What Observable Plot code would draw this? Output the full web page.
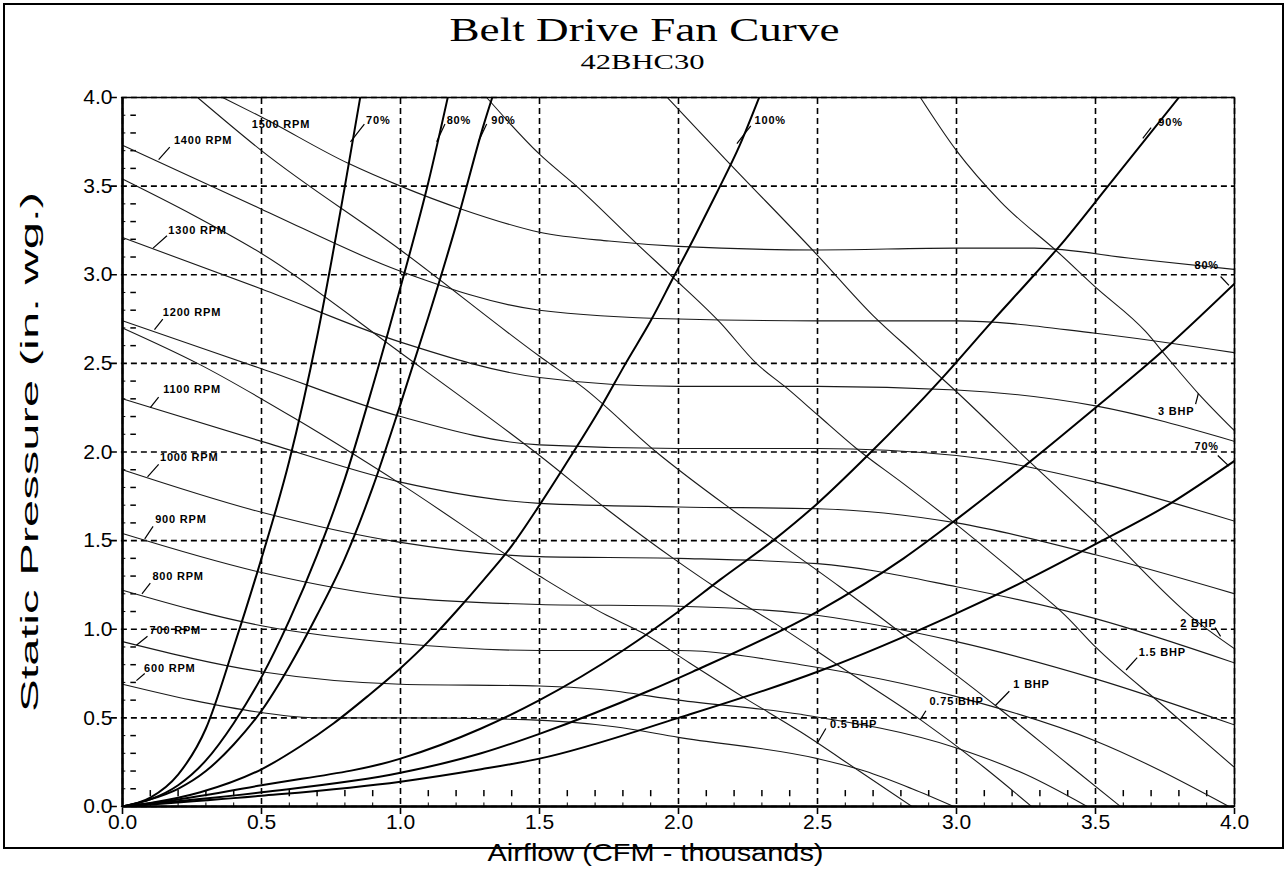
<!DOCTYPE html>
<html><head><meta charset="utf-8">
<script src="https://cdn.jsdelivr.net/npm/d3@7"></script>
<script src="https://cdn.jsdelivr.net/npm/@observablehq/plot@0.6"></script>
<style>
html,body{margin:0;padding:0;background:#fff;}
#wrap{position:relative;width:1286px;height:872px;overflow:hidden;}
#border{position:absolute;left:3px;top:3px;width:1277px;height:842px;border:2px solid #000;pointer-events:none;}
</style></head><body><div id="wrap"><div id="border"></div></div>
<script>
const titleText = "Belt Drive Fan Curve";
const subtitleText = "42BHC30";
const xTitle = "Airflow (CFM - thousands)";
const yTitle = "Static Pressure (in. wg.)";
const majorTicks = [0, 0.5, 1, 1.5, 2, 2.5, 3, 3.5, 4];
const minorTicks = [0.1,0.2,0.3,0.4,0.6,0.7,0.8,0.9,1.1,1.2,1.3,1.4,1.6,1.7,1.8,1.9,2.1,2.2,2.3,2.4,2.6,2.7,2.8,2.9,3.1,3.2,3.3,3.4,3.6,3.7,3.8,3.9];

// RPM curves [airflow, pressure]
const rpm600  = [[0,0.69],[0.25,0.6],[0.5,0.53],[0.7,0.5],[1.0,0.5],[1.45,0.49],[1.77,0.45],[2.0,0.39],[2.5,0.27],[2.67,0.2],[2.84,0.1],[2.99,0]];
const rpm700  = [[0,0.93],[0.5,0.76],[1.0,0.69],[1.5,0.68],[1.72,0.66],[2.0,0.6],[2.44,0.52],[3.0,0.33],[3.25,0.18],[3.47,0]];
const rpm800  = [[0,1.22],[0.5,1.02],[1.0,0.92],[1.5,0.88],[2.0,0.88],[2.44,0.8],[3.0,0.62],[3.5,0.37],[3.98,0]];
const rpm900  = [[0,1.54],[0.5,1.32],[1.0,1.18],[1.5,1.14],[2.0,1.13],[2.44,1.09],[3.0,0.93],[3.5,0.72],[4.0,0.46]];
const rpm1000 = [[0,1.9],[0.5,1.66],[1.0,1.49],[1.5,1.41],[2.0,1.4],[2.5,1.37],[3.0,1.24],[3.5,1.06],[4.0,0.81]];
const rpm1100 = [[0,2.3],[0.5,2.06],[1.0,1.83],[1.5,1.71],[2.0,1.69],[2.5,1.68],[3.0,1.6],[3.5,1.42],[4.0,1.2]];
const rpm1200 = [[0,2.74],[0.5,2.47],[1.0,2.2],[1.5,2.04],[2.0,2.02],[2.5,2.02],[3.0,1.98],[3.5,1.83],[4.0,1.61]];
const rpm1300 = [[0,3.21],[0.5,2.92],[1.0,2.62],[1.5,2.42],[2.0,2.37],[2.5,2.37],[3.0,2.35],[3.5,2.26],[4.0,2.06]];
const rpm1400 = [[0,3.73],[0.25,3.55],[0.5,3.37],[1.0,3.02],[1.5,2.8],[2.0,2.75],[2.5,2.74],[3.0,2.74],[3.5,2.67],[4.0,2.56]];
const rpm1500 = [[0.36,4.0],[0.5,3.89],[0.81,3.63],[1.0,3.5],[1.22,3.37],[1.5,3.24],[1.75,3.19],[2.0,3.16],[2.5,3.14],[3.0,3.15],[3.28,3.15],[3.64,3.09],[4.0,3.03]];

// Brake horsepower curves
const bhp05  = [[0,2.7],[0.27,2.5],[0.63,2.18],[1.0,1.82],[1.5,1.3],[1.74,1.08],[1.87,0.98],[2.04,0.81],[2.23,0.62],[2.44,0.42],[2.65,0.2],[2.84,0]];
const bhp075 = [[0,3.54],[0.25,3.34],[0.5,3.12],[1.0,2.56],[1.5,1.98],[1.74,1.68],[1.99,1.39],[2.13,1.24],[2.34,1.04],[2.6,0.77],[2.87,0.49],[3.1,0.22],[3.27,0]];
const bhp1   = [[0.27,4.0],[0.5,3.7],[1.0,3.14],[1.5,2.54],[1.66,2.36],[1.92,2.0],[2.17,1.7],[2.34,1.51],[2.58,1.24],[2.85,0.92],[3.14,0.57],[3.4,0.24],[3.59,0]];
const bhp15  = [[1.31,4.0],[1.5,3.68],[1.64,3.49],[1.86,3.16],[1.97,3.0],[2.15,2.73],[2.28,2.5],[2.39,2.36],[2.5,2.21],[2.64,2.02],[2.81,1.82],[3.0,1.59],[3.24,1.28],[3.39,1.08],[3.5,0.9],[3.75,0.56],[4.0,0.22]];
const bhp2   = [[1.96,4.0],[2.17,3.65],[2.5,3.11],[2.7,2.77],[2.86,2.54],[3.0,2.34],[3.26,1.95],[3.5,1.6],[3.86,1.05],[4.0,0.89]];
const bhp3   = [[2.87,4.0],[3.0,3.7],[3.16,3.41],[3.37,3.12],[3.5,2.93],[3.68,2.68],[3.76,2.53],[3.87,2.33],[4.0,2.12]];

// Efficiency (system) curves
const eff70L  = [[0,0],[0.1,0.05],[0.2,0.18],[0.3,0.44],[0.4,0.9],[0.5,1.4],[0.6,1.95],[0.7,2.65],[0.8,3.5],[0.855,4.0]];
const eff80L  = [[0,0],[0.1,0.04],[0.2,0.12],[0.3,0.26],[0.4,0.47],[0.5,0.73],[0.6,1.05],[0.7,1.42],[0.8,1.85],[0.9,2.37],[1.0,2.93],[1.1,3.52],[1.17,4.0]];
const eff90L  = [[0,0],[0.1,0.04],[0.2,0.1],[0.3,0.2],[0.4,0.35],[0.5,0.54],[0.6,0.79],[0.7,1.08],[0.8,1.4],[0.9,1.8],[1.0,2.27],[1.1,2.76],[1.2,3.28],[1.3,3.85],[1.33,4.0]];
const eff100  = [[0,0],[0.1,0.02],[0.28,0.08],[0.5,0.21],[0.64,0.34],[0.76,0.47],[0.88,0.62],[1.0,0.78],[1.1,0.93],[1.2,1.1],[1.3,1.28],[1.4,1.47],[1.5,1.7],[1.61,1.97],[1.72,2.25],[1.81,2.5],[1.9,2.74],[1.98,2.98],[2.06,3.22],[2.14,3.47],[2.22,3.73],[2.29,4.0]];
const eff90R  = [[0,0],[0.16,0.03],[0.5,0.12],[1.0,0.27],[1.29,0.44],[1.5,0.6],[1.8,0.88],[2.0,1.1],[2.15,1.28],[2.34,1.5],[2.5,1.71],[2.68,1.98],[2.95,2.42],[3.13,2.74],[3.28,3.0],[3.37,3.16],[3.55,3.51],[3.8,4.0]];
const eff80R  = [[0,0],[0.5,0.08],[1.0,0.19],[1.29,0.3],[1.5,0.41],[1.89,0.65],[2.05,0.76],[2.5,1.1],[2.81,1.4],[3.0,1.62],[3.26,1.94],[3.5,2.25],[3.72,2.54],[4.0,2.95]];
const eff70R  = [[0,0],[0.5,0.06],[1.0,0.14],[1.29,0.21],[1.5,0.27],[2.0,0.5],[2.5,0.76],[3.0,1.09],[3.23,1.26],[3.5,1.48],[3.77,1.71],[4.0,1.95]];

// Curve labels: text, label position, leader start/end
const labelText = ["600 RPM","700 RPM","800 RPM","900 RPM","1000 RPM","1100 RPM","1200 RPM","1300 RPM","1400 RPM","1500 RPM",
  "70%","80%","90%","100%","90%","80%","70%",
  "3 BHP","2 BHP","1.5 BHP","1 BHP","0.75 BHP","0.5 BHP"];
const labelX = [0.17,0.19,0.2,0.21,0.24,0.25,0.25,0.27,0.29,0.57, 0.92,1.21,1.37,2.33,3.77,3.9,3.9, 3.79,3.87,3.74,3.27,3.0,2.63];
const labelY = [0.78,0.995,1.3,1.62,1.97,2.35,2.79,3.25,3.76,3.85, 3.87,3.87,3.87,3.87,3.86,3.05,2.03, 2.23,1.03,0.87,0.69,0.59,0.46];
const leadX1 = [0.08,0.09,0.1,0.11,0.13,0.13,0.145,0.16,0.17,null, 0.87,1.16,1.31,2.26,3.7,3.95,3.94, 3.86,3.93,3.65,3.19,2.89,2.53];
const leadY1 = [0.75,0.96,1.26,1.58,1.93,2.31,2.75,3.22,3.72,null, 3.85,3.85,3.85,3.84,3.83,2.99,1.98, 2.27,1.01,0.84,0.65,0.54,0.44];
const leadX2 = [0.05,0.05,0.07,0.08,0.09,0.1,0.115,0.11,0.13,null, 0.82,1.13,1.28,2.21,3.67,3.98,3.98, 3.87,3.95,3.61,3.14,2.87,2.5];
const leadY2 = [0.71,0.91,1.2,1.51,1.86,2.25,2.69,3.15,3.65,null, 3.75,3.75,3.75,3.74,3.77,2.94,1.92, 2.33,0.96,0.77,0.57,0.49,0.36];

const thinSeries = {rpm600,rpm700,rpm800,rpm900,rpm1000,rpm1100,rpm1200,rpm1300,rpm1400,rpm1500,bhp05,bhp075,bhp1,bhp15,bhp2,bhp3};
const thickSeries = {eff70L,eff80L,eff90L,eff100,eff90R,eff80R,eff70R};
const toRows = obj => Object.entries(obj).flatMap(([name, pts]) => pts.map(([x, y]) => ({name, x, y})));
const thinRows = toRows(thinSeries);
const thickRows = toRows(thickSeries);
const labels = labelText.map((t, i) => ({t, x: labelX[i], y: labelY[i], x1: leadX1[i], y1: leadY1[i], x2: leadX2[i], y2: leadY2[i]}));
const leaders = labels.filter(d => d.x1 != null);

const sans = "Liberation Sans, Arial, sans-serif";
const serif = "Liberation Serif, Times New Roman, serif";

const chart = Plot.plot({
  width: 1286, height: 872,
  marginLeft: 122, marginRight: 52, marginTop: 97, marginBottom: 66,
  x: {domain: [0, 4]},
  y: {domain: [0, 4]},
  style: {fontFamily: sans, background: "white", color: "black", overflow: "visible"},
  marks: [
    Plot.ruleX(majorTicks, {y1: -0.045, y2: 4, stroke: "#000", strokeWidth: 1.6, strokeDasharray: "6,4"}),
    Plot.ruleY(majorTicks, {x1: -0.04, x2: 4, stroke: "#000", strokeWidth: 1.6, strokeDasharray: "6,4"}),
    Plot.ruleX(minorTicks, {y1: 0.055, y2: 0.09, stroke: "#000", strokeWidth: 1.5}),
    Plot.ruleY(minorTicks, {x1: 0.03, x2: 0.05, stroke: "#000", strokeWidth: 1.5}),
    Plot.ruleX(minorTicks, {y1: 0, y2: 0.02, stroke: "#000", strokeWidth: 1}),
    Plot.ruleY(minorTicks, {x1: 0, x2: 0.012, stroke: "#000", strokeWidth: 1}),
    Plot.line(thinRows, {x: "x", y: "y", z: "name", curve: "monotone-x", stroke: "#1a1a1a", strokeWidth: 1.1, clip: "frame"}),
    Plot.line(thickRows, {x: "x", y: "y", z: "name", curve: "monotone-x", stroke: "#000", strokeWidth: 2, clip: "frame"}),
    Plot.link(leaders, {x1: "x1", y1: "y1", x2: "x2", y2: "y2", stroke: "#000", strokeWidth: 1.2}),
    Plot.text(labels, {x: "x", y: "y", text: "t", fontSize: 11, fontWeight: "bold", fill: "#000", fontFamily: sans}),
    Plot.frame({stroke: "#000", strokeWidth: 1.5}),
    Plot.ruleX([0], {stroke: "#000", strokeWidth: 2.5}),
    Plot.ruleY([0], {stroke: "#000", strokeWidth: 2.5}),
    Plot.axisX(majorTicks, {tickSize: 0, tickPadding: 8, fontSize: 21, tickFormat: d => d.toFixed(1), label: null}),
    Plot.axisY(majorTicks, {tickSize: 0, tickPadding: 10, fontSize: 21, tickFormat: d => d.toFixed(1), label: null}),
    Plot.text([titleText], {frameAnchor: "top", lineAnchor: "middle", dx: -34, dy: -67, fontSize: 33, fontFamily: serif, fill: "#000"}),
    Plot.text([subtitleText], {frameAnchor: "top", lineAnchor: "middle", dx: -36, dy: -36, fontSize: 22, fontFamily: serif, fill: "#000"}),
    Plot.text([xTitle], {frameAnchor: "bottom", lineAnchor: "middle", dx: -23, dy: 47, fontSize: 23, fontFamily: sans, fill: "#000"}),
    Plot.text([yTitle], {frameAnchor: "left", textAnchor: "middle", lineAnchor: "middle", dx: -92, rotate: -90, fontSize: 23, fontFamily: sans, fill: "#000"})
  ]
});
document.getElementById("wrap").appendChild(chart);
const svg = d3.select(chart);
const stretch = (txt, len) => svg.selectAll("text").filter(function(){ return this.textContent === txt; })
  .attr("textLength", len).attr("lengthAdjust", "spacingAndGlyphs");
stretch(titleText, 390);
stretch(subtitleText, 124);
stretch(xTitle, 336);
stretch(yTitle, 520);
svg.selectAll("text").filter(function(){ return labelText.includes(this.textContent); })
  .style("letter-spacing", "0.8px");
</script></body></html>
